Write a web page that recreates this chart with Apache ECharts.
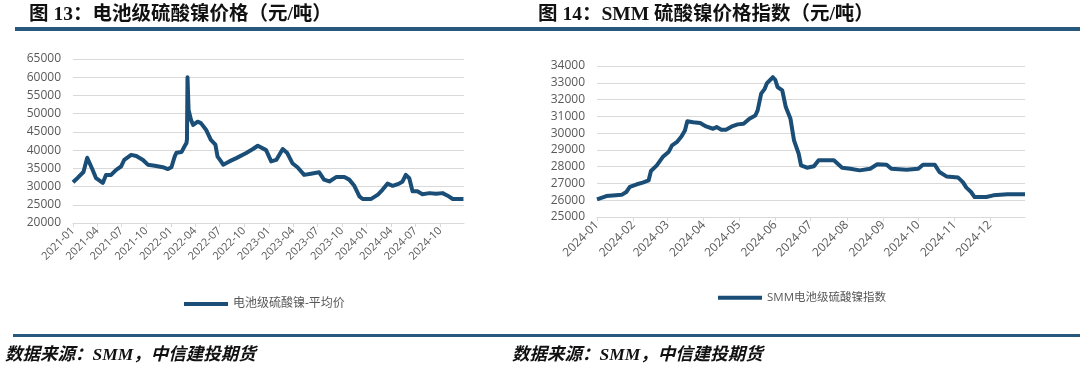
<!DOCTYPE html>
<html>
<head>
<meta charset="utf-8">
<script src="https://cdn.jsdelivr.net/npm/echarts@6/dist/echarts.min.js"></script>
<style>
  html, body { margin: 0; padding: 0; background: #fff; }
  #chart { width: 1080px; height: 379px; }
</style>
</head>
<body>
<div id="chart"></div>
<script>
// 图13 电池级硫酸镍-平均价 (元/吨)
const leftDates = ['2021-01-01','2021-01-20','2021-02-09','2021-02-23','2021-03-15','2021-03-28','2021-04-22','2021-04-28','2021-05-04','2021-05-23','2021-06-11','2021-06-29','2021-07-11','2021-08-06','2021-08-25','2021-09-19','2021-10-07','2021-11-02','2021-12-02','2021-12-21','2022-01-03','2022-01-15','2022-01-22','2022-02-10','2022-02-22','2022-02-28','2022-03-02','2022-03-04','2022-03-08','2022-03-17','2022-03-25','2022-04-11','2022-04-23','2022-05-12','2022-05-30','2022-06-16','2022-06-24','2022-07-07','2022-07-15','2022-08-07','2022-09-02','2022-10-09','2022-11-03','2022-11-21','2022-12-22','2023-01-10','2023-01-29','2023-02-22','2023-03-11','2023-03-30','2023-04-18','2023-05-13','2023-06-07','2023-07-08','2023-07-26','2023-08-15','2023-09-09','2023-10-10','2023-10-28','2023-11-16','2023-12-05','2023-12-17','2024-01-18','2024-02-12','2024-02-29','2024-03-19','2024-04-07','2024-05-01','2024-05-14','2024-05-26','2024-06-08','2024-06-20','2024-07-08','2024-07-27','2024-08-22','2024-09-16','2024-10-10','2024-10-29','2024-11-17','2024-12-27'];
const leftValues = [31200,32500,34000,37900,34600,32300,31000,30500,33200,33200,34600,35500,37300,38700,38400,37300,36000,35700,35300,34800,35300,38200,39300,39500,41200,41900,43000,60000,51000,48300,46900,47800,47400,45600,42800,41500,38200,36900,36000,36900,37800,39200,40300,41200,40000,36900,37300,40300,39200,36400,35300,33200,33500,33900,31900,31400,32600,32600,31900,30200,27300,26600,26600,27800,29100,30800,30200,30800,31400,33200,32300,28700,28700,27900,28200,28000,28200,27500,26600,26600];

// 图14 SMM电池级硫酸镍指数 (元/吨)
const rightDates = ['2024-01-01','2024-01-09','2024-01-17','2024-01-22','2024-01-26','2024-01-29','2024-02-04','2024-02-09','2024-02-14','2024-02-16','2024-02-21','2024-02-26','2024-03-02','2024-03-05','2024-03-09','2024-03-13','2024-03-16','2024-03-18','2024-03-23','2024-03-29','2024-04-03','2024-04-09','2024-04-12','2024-04-16','2024-04-20','2024-04-25','2024-04-30','2024-05-05','2024-05-10','2024-05-15','2024-05-17','2024-05-20','2024-05-23','2024-05-25','2024-05-30','2024-06-01','2024-06-03','2024-06-07','2024-06-10','2024-06-14','2024-06-17','2024-06-21','2024-06-23','2024-06-28','2024-07-04','2024-07-08','2024-07-21','2024-07-28','2024-08-04','2024-08-12','2024-08-21','2024-08-27','2024-09-04','2024-09-08','2024-09-21','2024-10-01','2024-10-05','2024-10-15','2024-10-19','2024-10-25','2024-11-04','2024-11-08','2024-11-11','2024-11-15','2024-11-18','2024-11-28','2024-12-04','2024-12-16','2024-12-31'];
const rightValues = [26050,26250,26300,26320,26490,26790,26950,27050,27180,27740,28080,28570,28870,29270,29460,29800,30160,30710,30650,30600,30400,30260,30360,30200,30200,30400,30520,30560,30860,31050,31350,32350,32640,32980,33330,33180,32740,32540,31550,30850,29570,28770,28080,27940,28020,28380,28380,27940,27880,27780,27880,28140,28120,27880,27820,27880,28120,28120,27680,27420,27350,27080,26750,26490,26190,26190,26290,26350,26350];

const leftTickMonths = ['2021-01','2021-04','2021-07','2021-10','2022-01','2022-04','2022-07','2022-10','2023-01','2023-04','2023-07','2023-10','2024-01','2024-04','2024-07','2024-10'];
const rightTickMonths = ['2024-01','2024-02','2024-03','2024-04','2024-05','2024-06','2024-07','2024-08','2024-09','2024-10','2024-11','2024-12'];

const leftTitle = '图 13：电池级硫酸镍价格（元/吨）';
const rightTitle = '图 14：SMM 硫酸镍价格指数（元/吨）';
const sourceText = '数据来源：SMM，中信建投期货';

const LINE = '#1a4e77';
const RULE = '#27597f';
const GRID = '#d9d9d9';
const LABEL = '#595959';
const FONT = "'Open Sans', 'Noto Sans CJK SC', sans-serif";
const TITLE_FONT = "'Liberation Serif', 'Noto Sans CJK SC', serif";

// dates -> day timestamps (UTC) so the x axis is date proportional
const dayTs = (s) => {
  const [y, m, d] = s.split('-').map(Number);
  return Date.UTC(y, m - 1, d || 1);
};
const fmtMonth = (v) => {
  const d = new Date(v);
  return d.getUTCFullYear() + '-' + String(d.getUTCMonth() + 1).padStart(2, '0');
};

function dateAxis(gridIndex, min, max, ticks, fontSize) {
  const vals = ticks.map(dayTs);
  return {
    type: 'value',
    gridIndex,
    min: dayTs(min),
    max: dayTs(max),
    axisLine: { show: true, onZero: false, lineStyle: { color: GRID, width: 1 } },
    axisTick: { show: true, customValues: vals, length: 4, lineStyle: { color: GRID } },
    axisLabel: {
      customValues: vals,
      rotate: 45,
      formatter: fmtMonth,
      color: LABEL,
      fontSize,
      fontFamily: FONT,
      margin: 6,
      showMinLabel: true,
      showMaxLabel: true,
    },
    splitLine: { show: false },
  };
}

function valueAxis(gridIndex, min, max, interval) {
  return {
    type: 'value',
    gridIndex,
    min,
    max,
    interval,
    axisLine: { show: false },
    axisTick: { show: false },
    axisLabel: { color: LABEL, fontSize: 12, fontFamily: FONT, margin: 12, formatter: (v) => String(v) },
    splitLine: { lineStyle: { color: GRID, width: 1 } },
  };
}

const titleStyle = { fontSize: 19.5, fontWeight: 'bold', color: '#111', fontFamily: TITLE_FONT };
const sourceStyle = { fontSize: 17.5, fontWeight: 'bold', fontStyle: 'italic', color: '#111', fontFamily: TITLE_FONT };

const chart = echarts.init(document.getElementById('chart'));
chart.setOption({
  animation: false,
  backgroundColor: '#fff',
  title: [
    { text: leftTitle, left: 24, top: 0, textStyle: titleStyle },
    { text: rightTitle, left: 533, top: 0, textStyle: titleStyle },
    { text: sourceText, left: 0, top: 342, textStyle: sourceStyle },
    { text: sourceText, left: 507, top: 342, textStyle: sourceStyle },
  ],
  graphic: [
    { type: 'rect', shape: { x: 15, y: 27, width: 1065, height: 4 }, style: { fill: RULE } },
    { type: 'rect', shape: { x: 13, y: 334, width: 1067, height: 3 }, style: { fill: RULE } },
  ],
  grid: [
    { left: 73, top: 59, width: 391, height: 164 },
    { left: 597, top: 66, width: 428, height: 151 },
  ],
  xAxis: [
    dateAxis(0, '2021-01-01', '2024-12-29', leftTickMonths, 11),
    dateAxis(1, '2024-01-01', '2024-12-31', rightTickMonths, 12),
  ],
  yAxis: [
    valueAxis(0, 20000, 65000, 5000),
    valueAxis(1, 25000, 34000, 1000),
  ],
  legend: [
    {
      data: ['电池级硫酸镍-平均价'],
      left: 179, top: 293,
      icon: 'rect', itemWidth: 44, itemHeight: 4, itemGap: 4,
      textStyle: { color: LABEL, fontSize: 12, fontFamily: FONT },
    },
    {
      data: ['SMM电池级硫酸镍指数'],
      left: 713, top: 287,
      icon: 'rect', itemWidth: 44, itemHeight: 4, itemGap: 4,
      textStyle: { color: LABEL, fontSize: 11.5, fontFamily: FONT },
    },
  ],
  series: [
    {
      name: '电池级硫酸镍-平均价',
      type: 'line',
      xAxisIndex: 0,
      yAxisIndex: 0,
      data: leftDates.map((d, i) => [dayTs(d), leftValues[i]]),
      showSymbol: false,
      lineStyle: { width: 4, color: LINE, join: 'round' },
      itemStyle: { color: LINE },
    },
    {
      name: 'SMM电池级硫酸镍指数',
      type: 'line',
      xAxisIndex: 1,
      yAxisIndex: 1,
      data: rightDates.map((d, i) => [dayTs(d), rightValues[i]]),
      showSymbol: false,
      lineStyle: { width: 4, color: LINE, join: 'round' },
      itemStyle: { color: LINE },
    },
  ],
});
window.addEventListener('resize', () => chart.resize());
</script>
</body>
</html>
